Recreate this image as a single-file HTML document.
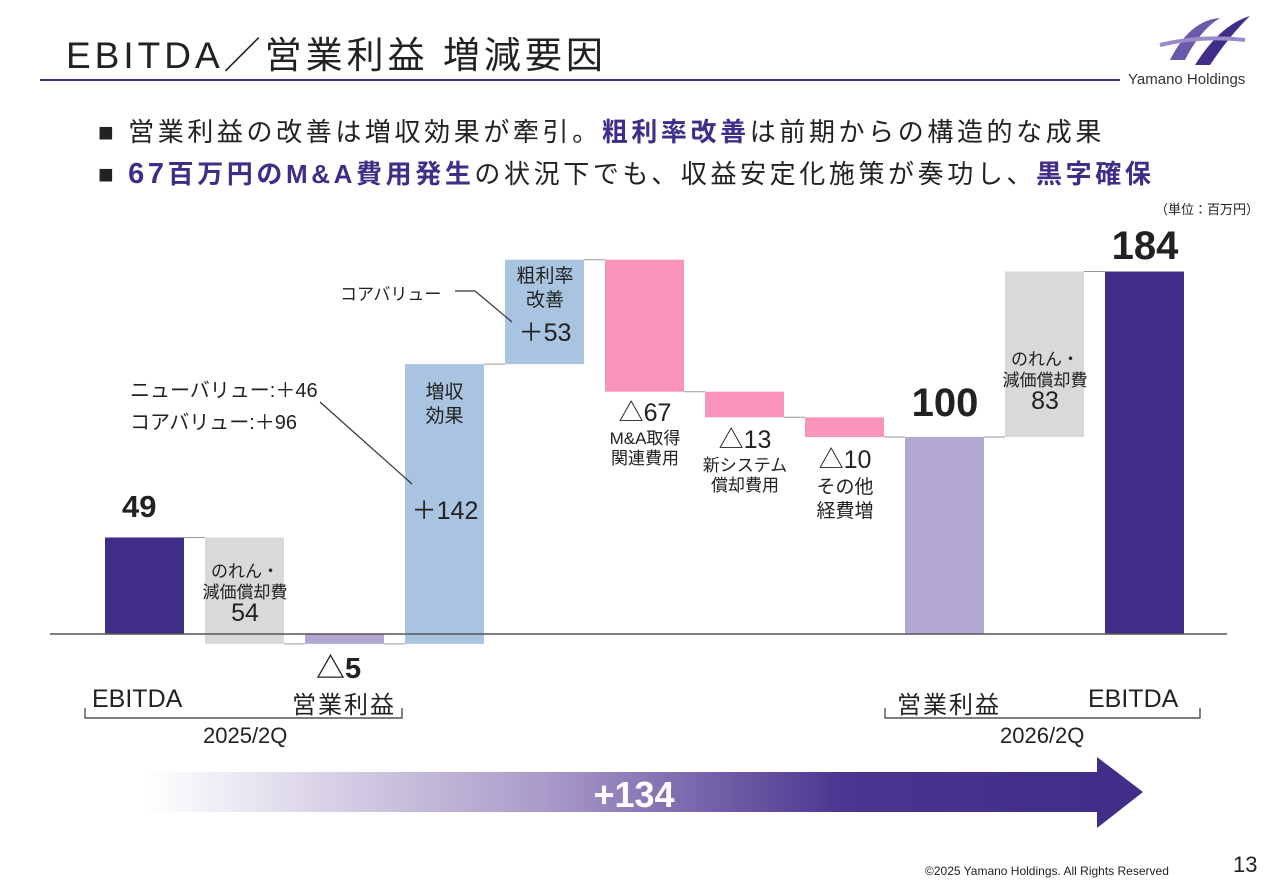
<!DOCTYPE html>
<html><head><meta charset="utf-8"><style>
body{margin:0;width:1280px;height:886px;background:#fff;overflow:hidden;font-family:"Liberation Sans","Noto Sans CJK JP",sans-serif;position:relative;color:#222}
.a{position:absolute;white-space:nowrap}
.c{text-align:center}
.p{color:#3f2d87;font-weight:bold}
</style></head><body>
<div class="a" style="left:66px;top:25px;font-size:37px;letter-spacing:4px;color:#222">EBITDA／営業利益 増減要因</div>
<div class="a" style="left:40px;top:79px;width:1080px;height:2px;background:#3f2d87"></div>
<svg class="a" style="left:1150px;top:10px" width="110" height="60" viewBox="0 0 110 60"><path d="M20 50 Q40 10 70 8 Q50 20 35 50Z" fill="#6a5aa8"/><path d="M45 55 Q70 15 100 6 Q80 25 60 55Z" fill="#3f2d87"/><path d="M10 35 Q50 25 95 30" stroke="#9a8cc8" stroke-width="4" fill="none"/></svg>
<div class="a" style="left:1128px;top:71px;font-size:15px;color:#333">Yamano Holdings</div>
<div class="a" style="left:98px;top:112px;font-size:26px;letter-spacing:3.6px">■ 営業利益の改善は増収効果が牽引。<span class="p">粗利率改善</span>は前期からの構造的な成果</div>
<div class="a" style="left:98px;top:154px;font-size:26px;letter-spacing:3.6px">■ <span class="p" style="font-size:29px">67</span><span class="p">百万円のM&amp;A費用発生</span>の状況下でも、収益安定化施策が奏功し、<span class="p">黒字確保</span></div>
<div class="a" style="left:1155px;top:199px;font-size:13px">（単位：百万円）</div>
<svg id="chart" class="a" style="left:0;top:0" width="1280" height="886">
<defs><linearGradient id="g" x1="0" x2="1"><stop offset="0" stop-color="#fff"/><stop offset="0.4" stop-color="#a99ac9"/><stop offset="0.7" stop-color="#4a3590"/><stop offset="1" stop-color="#3f2d87"/></linearGradient></defs>
<path d="M147 772 H1097 V757 L1143 792 L1097 828 V812 H147Z" fill="url(#g)"/>
<text x="634" y="807" font-size="36" fill="#fff" text-anchor="middle" font-weight="bold" font-family="Liberation Sans">+134</text>
</svg>
<script>
const categories=["EBITDA","goodwill-1","op-profit-1","sales-effect","gross-margin","ma-cost","system-cost","other-cost","op-profit-2","goodwill-2","EBITDA-2"];
const values=[49,-54,-5,142,53,-67,-13,-10,100,84,184];
const kinds=["total","delta","total","delta","delta","delta","delta","delta","total","delta","total"];
const colors=["#3f2d87","#d9d9d9","#b3a7d3","#a9c4e0","#a9c4e0","#f995bb","#f995bb","#f995bb","#b3a7d3","#d9d9d9","#3f2d87"];
const svg=document.getElementById('chart');const NS="http://www.w3.org/2000/svg";
const y0=634,k=1.97;const y=v=>y0-v*k;const x=i=>105+i*100;
let run=0;
for(let i=0;i<values.length;i++){
 let a,b;
 if(kinds[i]==="total"){a=0;b=values[i];run=values[i];}
 else {a=run;b=run+values[i];run=b;}
 const r=document.createElementNS(NS,'rect');
 r.setAttribute('x',x(i));r.setAttribute('width',79);
 r.setAttribute('y',Math.min(y(a),y(b)));r.setAttribute('height',Math.max(2,Math.abs(y(a)-y(b))));
 r.setAttribute('fill',colors[i]);
 
 
 svg.appendChild(r);
 const end=y(b);
 if(i<values.length-1){const l=document.createElementNS(NS,'line');
  l.setAttribute('x1',x(i)+79);l.setAttribute('x2',x(i+1));l.setAttribute('y1',end);l.setAttribute('y2',end);
  l.setAttribute('stroke','#999');
  
  
  svg.appendChild(l);}
}
const ax=document.createElementNS(NS,'line');ax.setAttribute('x1',50);ax.setAttribute('x2',1227);ax.setAttribute('y1',y0);ax.setAttribute('y2',y0);ax.setAttribute('stroke','#555');ax.setAttribute('stroke-width',1.5);


svg.appendChild(ax);
</script>
<svg class="a" style="left:0;top:0" width="1280" height="886">
<g stroke="#333" fill="none" stroke-width="1.2">
<path d="M85 708 V718 H402 V708"/><path d="M885 708 V718 H1200 V708"/>
<path d="M455 291 H475 L512 322"/><path d="M320 402 L412 484"/>
</g></svg>
<div class="a" style="left:122px;top:489px;font-size:31px;font-weight:bold">49</div>
<div class="a c" style="left:190px;top:561px;width:110px;font-size:17px;line-height:21px">のれん・<br>減価償却費<br><span style="font-size:25px">54</span></div>
<div class="a" style="left:316px;top:645px;font-size:29px;font-weight:bold">△5</div>
<div class="a c" style="left:405px;top:381px;width:79px;font-size:19px;line-height:24px">増収<br>効果</div>
<div class="a c" style="left:400px;top:491px;width:90px;font-size:25px">＋142</div>
<div class="a" style="left:130px;top:374px;font-size:20px">ニューバリュー:＋46</div>
<div class="a" style="left:130px;top:406px;font-size:20px">コアバリュー:＋96</div>
<div class="a" style="left:340px;top:280px;font-size:17px">コアバリュー</div>
<div class="a c" style="left:500px;top:265px;width:90px;font-size:19px;line-height:24px">粗利率<br>改善<br><span style="font-size:25px;line-height:40px">＋53</span></div>
<div class="a c" style="left:595px;top:397px;width:100px;font-size:17px;line-height:20px"><span style="font-size:25px;line-height:32px">△67</span><br>M&amp;A取得<br>関連費用</div>
<div class="a c" style="left:695px;top:424px;width:100px;font-size:17px;line-height:20px"><span style="font-size:25px;line-height:32px">△13</span><br>新システム<br>償却費用</div>
<div class="a c" style="left:795px;top:444px;width:100px;font-size:19px;line-height:24px"><span style="font-size:25px;line-height:32px">△10</span><br>その他<br>経費増</div>
<div class="a c" style="left:895px;top:381px;width:100px;font-size:40px;font-weight:bold">100</div>
<div class="a c" style="left:990px;top:349px;width:110px;font-size:17px;line-height:21px">のれん・<br>減価償却費<br><span style="font-size:25px">83</span></div>
<div class="a c" style="left:1095px;top:224px;width:100px;font-size:40px;font-weight:bold">184</div>
<div class="a" style="left:92px;top:685px;font-size:25px">EBITDA</div>
<div class="a" style="left:292px;top:685px;font-size:24px;letter-spacing:2px">営業利益</div>
<div class="a" style="left:897px;top:685px;font-size:24px;letter-spacing:2px">営業利益</div>
<div class="a" style="left:1088px;top:685px;font-size:25px">EBITDA</div>
<div class="a" style="left:203px;top:723px;font-size:22px">2025/2Q</div>
<div class="a" style="left:1000px;top:723px;font-size:22px">2026/2Q</div>
<div class="a" style="left:925px;top:864px;font-size:12px">©2025 Yamano Holdings. All Rights Reserved</div>
<div class="a" style="left:1233px;top:852px;font-size:22px">13</div>
</body></html>
